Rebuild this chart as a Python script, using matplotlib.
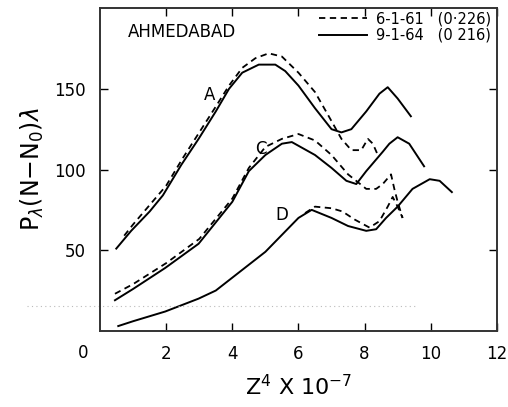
import matplotlib
matplotlib.use("Agg")
import matplotlib.pyplot as plt

# curve A
a_x_64 = [0.49, 0.94, 1.5, 1.9, 2.46, 2.98, 3.5, 3.9, 4.3, 4.8, 5.3, 5.6, 6.0, 6.5, 7.0, 7.3, 7.6, 8.05, 8.45, 8.7, 9.0, 9.4]
a_y_64 = [51, 62, 74, 84, 103, 119, 136, 150, 160, 165, 165, 161, 152, 138, 125, 123, 125, 136, 147, 151, 144, 133]
a_x_61 = [0.73, 1.0, 1.5, 2.0, 2.5, 3.0, 3.5, 3.9, 4.3, 4.7, 5.1, 5.5, 6.0, 6.5, 7.0, 7.3, 7.6, 7.9, 8.1, 8.25, 8.4]
a_y_61 = [59, 66, 78, 90, 107, 123, 139, 152, 163, 169, 172, 170, 160, 148, 130, 119, 112, 112, 119, 116, 109]

# curve C
c_x_64 = [0.45, 1.0, 1.97, 2.98, 4.0, 4.5, 5.0, 5.5, 5.8, 6.5, 7.0, 7.45, 7.75, 8.05, 8.55, 8.75, 9.0, 9.35, 9.8]
c_y_64 = [19, 26, 39, 54, 80, 99, 109, 116, 117, 109, 101, 93, 91, 99, 111, 116, 120, 116, 102]
c_x_61 = [0.45, 1.0, 2.0, 3.0, 4.0, 4.5, 5.0, 5.5, 6.0, 6.5, 7.0, 7.5, 8.05, 8.35, 8.55, 8.8, 8.9, 9.0, 9.15]
c_y_61 = [23, 29, 42, 57, 82, 101, 114, 119, 122, 118, 109, 97, 88, 88, 91, 97, 88, 80, 70]

# curve D
d_x_64 = [0.55, 1.0, 1.97, 2.98, 3.5, 5.0, 6.0, 6.4, 7.0, 7.5, 8.05, 8.35, 8.65, 9.0, 9.45, 9.97, 10.27, 10.64]
d_y_64 = [3, 6, 12, 20, 25, 49, 70, 75, 70, 65, 62, 63, 70, 77, 88, 94, 93, 86]
d_x_61 = [6.2, 6.5, 7.0, 7.33, 7.7, 8.15, 8.45, 8.7, 8.85, 9.0, 9.15]
d_y_61 = [73, 77, 76, 74, 69, 64, 68, 77, 83, 77, 70]

curve_labels = [("A", 3.3, 146), ("C", 4.86, 113), ("D", 5.5, 72)]
x_ticks = [2, 4, 6, 8, 10, 12]
y_ticks = [50, 100, 150]

plt.rcParams['font.family'] = ['DejaVu Sans']
fig = plt.figure(figsize=(5.08, 4.07), dpi=100)
ax = fig.add_axes([0.197, 0.187, 0.781, 0.793])

dash = (0, (3.5, 2.5))
ax.plot(a_x_61, a_y_61, color='black', lw=1.3, ls=dash, label='6-1-61   (0·226)')
ax.plot(a_x_64, a_y_64, color='black', lw=1.4, label='9-1-64   (0 216)')
ax.plot(c_x_61, c_y_61, color='black', lw=1.3, ls=dash)
ax.plot(c_x_64, c_y_64, color='black', lw=1.4)
ax.plot(d_x_61, d_y_61, color='black', lw=1.3, ls=dash)
ax.plot(d_x_64, d_y_64, color='black', lw=1.4)

# faint dotted line from the scan
ax.plot([-2.2, 9.6], [15.4, 15.4], color='#bbbbbb', lw=0.8, ls=(0, (1, 3)), clip_on=False)

for name, lx, ly in curve_labels:
    ax.text(lx, ly, name, fontsize=12, ha='center', va='center')

ax.text(0.07, 0.925, 'AHMEDABAD', transform=ax.transAxes, fontsize=12, va='center')

ax.set_xlim(0, 12)
ax.set_ylim(0, 200)
ax.set_xticks(x_ticks)
ax.set_yticks(y_ticks)
ax.tick_params(direction='in', length=6, width=1, labelsize=12, pad=10,
               top=True, right=True)
ax.text(-0.5, -8, '0', fontsize=12, ha='center', va='top', clip_on=False)
for s in ax.spines.values():
    s.set_linewidth(1.4)
    s.set_color('#333333')

ax.set_xlabel(r'Z$^4$ X 10$^{-7}$', fontsize=16, labelpad=8)
ax.set_ylabel(r'P$_\lambda$(N$-$N$_0$)$\lambda$', fontsize=17, labelpad=6)

ax.legend(loc='upper right', bbox_to_anchor=(0.985, 0.99), frameon=False,
          fontsize=10.5, handlelength=3.3, labelspacing=0.1, handletextpad=0.6,
          borderpad=0, borderaxespad=0)

fig.savefig('out.png', dpi=100)
